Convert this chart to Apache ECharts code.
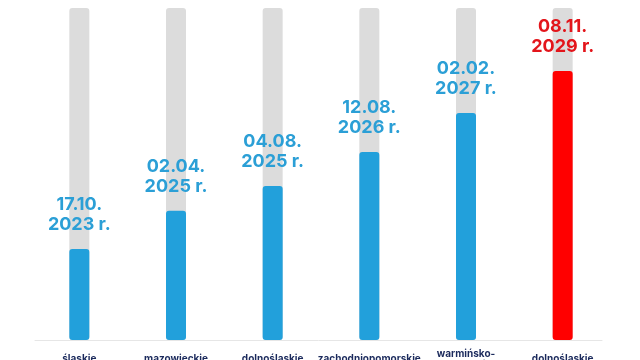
<!DOCTYPE html>
<html>
<head>
<meta charset="utf-8">
<script src="https://cdn.jsdelivr.net/npm/echarts@6/dist/echarts.min.js"></script>
<style>
  html, body { margin: 0; padding: 0; background: #fff; }
  #main { width: 640px; height: 360px; }
</style>
</head>
<body>
<div id="main"></div>
<script>
// województwa
var regions = ['śląskie', 'mazowieckie', 'dolnośląskie', 'zachodniopomorskie', 'warmińsko-\nmazurskie', 'dolnośląskie'];
// wysokość słupka (skala 0-100)
var progress = [27.4, 38.9, 46.4, 56.6, 68.4, 81.0];
// daty nad słupkami
var dates = ['17.10.\n2023 r.', '02.04.\n2025 r.', '04.08.\n2025 r.', '12.08.\n2026 r.', '02.02.\n2027 r.', '08.11.\n2029 r.'];
var lastIdx = regions.length - 1;

var myChart = echarts.init(document.getElementById('main'));

var option = {
    animation: false,
    backgroundColor: '#fff',
    grid: [{
        left: 31,
        right: 29,
        top: 8,
        bottom: 20,
        outerBoundsMode: 'none'
    }, {
        // tylko linia osi
        left: 35,
        right: 38,
        top: 8,
        bottom: 20,
        outerBoundsMode: 'none'
    }],
    xAxis: [{
        type: 'category',
        gridIndex: 0,
        data: regions,
        axisTick: { show: false },
        axisLine: { show: false },
        axisLabel: {
            interval: 0,
            margin: 19,
            verticalAlign: 'middle',
            color: '#1b2a5c',
            fontFamily: 'Inter',
            fontWeight: 'bold',
            fontSize: 10,
            lineHeight: 11
        }
    }, {
        type: 'category',
        gridIndex: 1,
        data: regions,
        axisTick: { show: false },
        axisLabel: { show: false },
        axisLine: { lineStyle: { color: '#e6e6e6', width: 1 } }
    }],
    yAxis: [{
        type: 'value',
        gridIndex: 0,
        min: 0,
        max: 100,
        show: false,
        splitLine: { show: false }
    }, {
        type: 'value',
        gridIndex: 1,
        min: 0,
        max: 100,
        show: false,
        splitLine: { show: false }
    }],
    series: [{
        type: 'bar',
        barWidth: 20,
        z: 3,
        showBackground: true,
        backgroundStyle: {
            color: '#dcdcdc',
            borderRadius: 3
        },
        data: progress.map(function (v, i) {
            var isLast = i === lastIdx;
            return {
                value: v,
                itemStyle: {
                    color: isLast ? '#ff0000' : '#22a0db',
                    borderRadius: 3
                },
                label: {
                    color: isLast ? '#e3151b' : '#2b9fd6'
                }
            };
        }),
        label: {
            show: true,
            position: 'top',
            distance: 14,
            fontFamily: 'Inter',
            fontWeight: 'bold',
            fontSize: 18,
            lineHeight: 20,
            formatter: function (p) {
                return dates[p.dataIndex];
            }
        }
    }]
};

myChart.setOption(option);
</script>
</body>
</html>
